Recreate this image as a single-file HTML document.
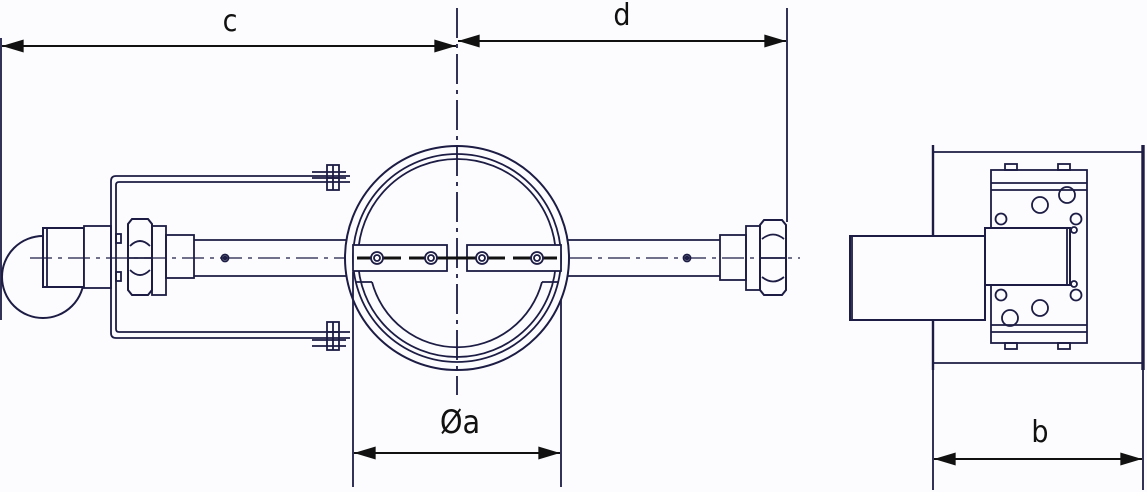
<!DOCTYPE html>
<html><head><meta charset="utf-8"><style>
html,body{margin:0;padding:0;background:#fcfcfe;}
svg{display:block}
text{font-family:"DejaVu Sans Condensed","Liberation Sans",sans-serif;fill:#111;}
</style></head><body>
<svg width="1147" height="492" viewBox="0 0 1147 492" xmlns="http://www.w3.org/2000/svg">
<defs>
<marker id="a" viewBox="0 0 20 12" refX="20" refY="6" markerWidth="22" markerHeight="13" markerUnits="userSpaceOnUse" orient="auto-start-reverse"><path d="M0,0 L20,6 L0,12 z" fill="#111"/></marker>
</defs>
<g stroke="#1c1c44" stroke-width="1.8" fill="none">
<line x1="1" y1="38" x2="1" y2="320"/>
<line x1="2" y1="46" x2="456" y2="46" stroke="#111" stroke-width="2" marker-start="url(#a)" marker-end="url(#a)"/>
<line x1="787" y1="8" x2="787" y2="222"/>
<line x1="458" y1="41" x2="786" y2="41" stroke="#111" stroke-width="2" marker-start="url(#a)" marker-end="url(#a)"/>
<line x1="457" y1="8" x2="457" y2="395" stroke-dasharray="30,6,4,6"/>

<circle cx="43" cy="277" r="41" stroke-width="2"/>
<rect x="43" y="228" width="41" height="59" fill="#fcfcfe" stroke-width="2"/>
<line x1="47" y1="228" x2="47" y2="287"/>
<rect x="84" y="226" width="27" height="62" fill="#fcfcfe"/>
<path d="M350,176 H116 Q111,176 111,181 V333 Q111 338 116 338 H350"/>
<path d="M350,182 H119 Q116,182 116,185 V329 Q116 332 119 332 H350"/>
<path d="M312,172 H346 M312,178 H346"/>
<rect x="327" y="165" width="12" height="25"/>
<line x1="327" y1="178" x2="339" y2="178"/><line x1="333" y1="165" x2="333" y2="190"/>
<path d="M312,340 H346 M312,346 H346"/>
<rect x="327" y="322" width="12" height="28"/>
<line x1="327" y1="332" x2="339" y2="332"/><line x1="333" y1="322" x2="333" y2="350"/>
<rect x="116" y="234" width="5" height="9"/><rect x="116" y="272" width="5" height="9"/>
<path d="M132,219 H148 L152,224 V290 L148,295 H132 L128,290 V224 Z" stroke-width="2"/>
<path d="M128,258 H152 M130,246 Q140,236 150,246 M130,270 Q140,280 150,270"/>
<rect x="152" y="226" width="14" height="69"/>
<rect x="166" y="235" width="28" height="43"/>
<path d="M194,240 H347 M194,276 H347"/>
<circle cx="225" cy="258" r="3.5"/><circle cx="225" cy="258" r="1.5"/>
<line x1="30" y1="258" x2="345" y2="258" stroke-width="1.2" stroke-dasharray="22,6,4,6"/>
<circle cx="457" cy="258" r="112" stroke-width="2"/>
<circle cx="457" cy="258" r="104"/>
<circle cx="457" cy="258" r="99"/>
<path d="M372,282 H356 M542,282 H558"/>
<path d="M372,282 A88,88 0 0 0 542,282"/>
<rect x="353" y="245" width="94" height="26" fill="#fcfcfe"/>
<rect x="467" y="245" width="94" height="26" fill="#fcfcfe"/>
<line x1="357" y1="258" x2="560" y2="258" stroke="#111" stroke-width="3" stroke-dasharray="18,8"/>
<line x1="425" y1="258" x2="490" y2="258" stroke="#111" stroke-width="3"/>
<g stroke-width="1.8" fill="#fcfcfe">
<circle cx="377" cy="258" r="6"/><circle cx="377" cy="258" r="3"/>
<circle cx="431" cy="258" r="6"/><circle cx="431" cy="258" r="3"/>
<circle cx="482" cy="258" r="6"/><circle cx="482" cy="258" r="3"/>
<circle cx="537" cy="258" r="6"/><circle cx="537" cy="258" r="3"/>
</g>
<path d="M567,240 H720 M567,276 H720"/>
<line x1="570" y1="258" x2="800" y2="258" stroke-width="1.2" stroke-dasharray="22,6,4,6"/>
<circle cx="687" cy="258" r="3.5"/><circle cx="687" cy="258" r="1.5"/>
<rect x="720" y="235" width="26" height="45"/>
<rect x="746" y="226" width="14" height="64"/>
<path d="M764,220 H782 L786,225 V290 L782,295 H764 L760,290 V225 Z" stroke-width="2"/>
<path d="M760,258 H786 M762,239 Q773,230 784,239 M762,277 Q773,286 784,277"/>
<line x1="353" y1="272" x2="353" y2="487"/>
<line x1="561" y1="300" x2="561" y2="487"/>
<line x1="354" y1="453" x2="560" y2="453" stroke="#111" stroke-width="2" marker-start="url(#a)" marker-end="url(#a)"/>

<line x1="933" y1="145" x2="933" y2="370" stroke-width="2.4"/>
<line x1="1143" y1="145" x2="1143" y2="370" stroke-width="3.4"/>
<path d="M933,152 H1143 M933,363 H1143"/>
<rect x="991" y="170" width="96" height="173"/>
<path d="M991,183 H1087 M991,190 H1087 M991,325 H1087 M991,332 H1087"/>
<rect x="1005" y="164" width="12" height="6"/><rect x="1058" y="164" width="12" height="6"/>
<rect x="1005" y="343" width="12" height="6"/><rect x="1058" y="343" width="12" height="6"/>
<circle cx="1040" cy="205" r="8"/><circle cx="1067" cy="195" r="8"/>
<circle cx="1001" cy="219" r="5.5"/><circle cx="1076" cy="219" r="5.5"/>
<circle cx="1074" cy="230" r="3"/><circle cx="1074" cy="284" r="3"/>
<circle cx="1001" cy="295" r="5.5"/><circle cx="1076" cy="295" r="5.5"/>
<circle cx="1040" cy="308" r="8"/><circle cx="1010" cy="318" r="8"/>
<rect x="850" y="236" width="135" height="84" fill="#fcfcfe" stroke-width="2"/>
<line x1="852" y1="236" x2="852" y2="320"/>
<rect x="985" y="228" width="85" height="57" fill="#fcfcfe" stroke-width="2"/>
<line x1="1067" y1="228" x2="1067" y2="285"/>
<line x1="933" y1="370" x2="933" y2="490"/>
<line x1="1143" y1="370" x2="1143" y2="490"/>
<line x1="934" y1="459" x2="1142" y2="459" stroke="#111" stroke-width="2" marker-start="url(#a)" marker-end="url(#a)"/>
</g>
<text x="230" y="31" font-size="30" text-anchor="middle">c</text>
<text x="622" y="25" font-size="30" text-anchor="middle">d</text>
<text x="460" y="433" font-size="32" text-anchor="middle">Øa</text>
<text x="1040" y="442" font-size="30" text-anchor="middle">b</text>
</svg>
</body></html>
